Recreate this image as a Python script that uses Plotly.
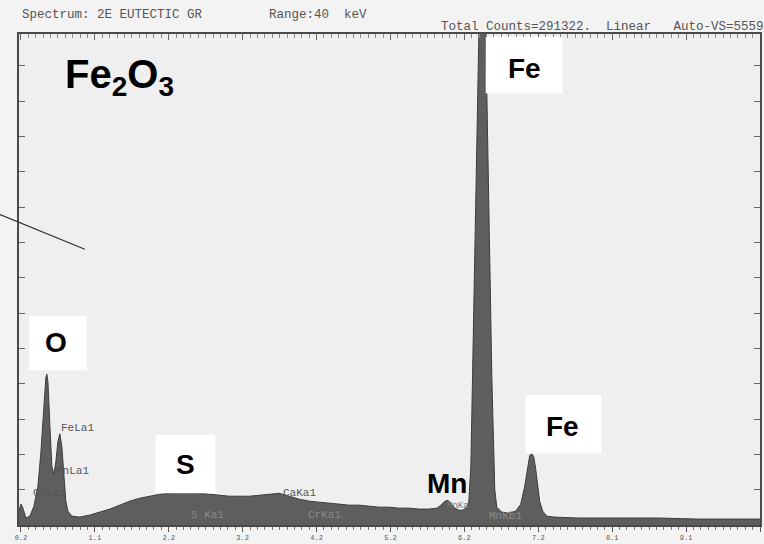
import plotly.graph_objects as go

# ---- spectrum (energy in keV, counts) ----
energy_kev = [0.174, 0.2, 0.226, 0.266, 0.319, 0.372, 0.425, 0.465, 0.504, 0.531,
              0.544, 0.558, 0.584, 0.61, 0.637, 0.663, 0.69, 0.716, 0.742, 0.769,
              0.795, 0.822, 0.875, 0.98, 1.113, 1.245, 1.377, 1.51, 1.642, 1.774,
              1.906, 2.039, 2.171, 2.303, 2.435, 2.568, 2.7, 2.832, 2.965, 3.097,
              3.229, 3.361, 3.494, 3.626, 3.758, 3.891, 4.023, 4.155, 4.287, 4.42,
              4.552, 4.684, 4.816, 4.949, 5.081, 5.213, 5.345, 5.478, 5.61, 5.716,
              5.769, 5.822, 5.862, 5.902, 5.954, 6.007, 6.06, 6.113, 6.139, 6.166,
              6.186, 6.272, 6.285, 6.318, 6.351, 6.364, 6.444, 6.483, 6.51, 6.576,
              6.668, 6.761, 6.827, 6.88, 6.92, 6.946, 6.972, 6.999, 7.025, 7.052,
              7.078, 7.118, 7.171, 7.264, 7.594, 8.123, 8.652, 9.181, 9.711, 10.0]
counts = [157, 236, 191, 79, 101, 213, 438, 831, 1336, 1673,
          1707, 1617, 1112, 663, 573, 719, 943, 1033, 887, 550,
          270, 157, 101, 90, 112, 146, 180, 225, 270, 303,
          326, 348, 359, 371, 371, 359, 348, 337, 326, 326,
          326, 337, 348, 359, 326, 292, 270, 258, 247, 236,
          225, 225, 213, 202, 202, 191, 191, 180, 180, 191,
          225, 270, 281, 247, 191, 168, 168, 202, 270, 663,
          1673, 5559, 9000, 13000, 9000, 5559, 1673, 400, 200, 146,
          135, 157, 236, 438, 685, 786, 808, 775, 640, 438,
          270, 157, 101, 90, 79, 79, 79, 67, 67, 67]

major_tick_kev = [0.2, 1.18, 2.16, 3.14, 4.12, 5.1, 6.08, 7.06, 8.04, 9.02, 10.0]
major_tick_text = ["0.2", "1.1", "2.2", "3.2", "4.2", "5.2", "6.2", "7.2", "8.1", "9.1", "10"]
x_range = [0.174, 10.0]
y_range = [0, 5559]

W, H = 764, 544
L, R, T, B = 19, 2, 34, 15


def px(x):
    return (x - L) / (W - L - R)


def py(y):
    return (H - B - y) / (H - T - B)


fig = go.Figure()
fig.add_trace(go.Scatter(
    x=energy_kev, y=counts, mode="lines", fill="tozeroy",
    line=dict(color="#3c3c3c", width=1), fillcolor="#5e5e5e",
    hoverinfo="skip", showlegend=False))
fig.add_trace(go.Scatter(
    x=[x_range[0]], y=[0], xaxis="x2", mode="markers",
    marker=dict(opacity=0), hoverinfo="skip", showlegend=False))

mono = "Liberation Mono, Courier New, monospace"
sans = "Liberation Sans, Arial, sans-serif"

fig.update_layout(
    width=W, height=H, autosize=False,
    margin=dict(l=L, r=R, t=T, b=B),
    paper_bgcolor="#f3f3f3", plot_bgcolor="#efefef",
    xaxis=dict(range=x_range, tickmode="array", tickvals=major_tick_kev,
               ticktext=major_tick_text, ticks="outside", ticklen=5,
               tickcolor="#555", tickfont=dict(family=mono, size=7, color="#555"),
               minor=dict(tickmode="linear", tick0=0.2, dtick=0.098, ticks="outside",
                          ticklen=3, tickcolor="#777"),
               showline=True, linecolor="#4a4a4a", linewidth=1.5, mirror=True,
               showgrid=False, zeroline=False),
    xaxis2=dict(range=x_range, overlaying="x", side="top", tickmode="array",
                tickvals=major_tick_kev, ticks="inside", ticklen=6, tickcolor="#666",
                showticklabels=False,
                minor=dict(tickmode="linear", tick0=0.2, dtick=0.098, ticks="inside",
                           ticklen=4, tickcolor="#888"),
                showline=False, showgrid=False, zeroline=False),
    yaxis=dict(range=y_range, tickmode="linear", tick0=0, dtick=400, ticks="inside",
               ticklen=6, tickcolor="#666", showticklabels=False, showline=True,
               linecolor="#4a4a4a", linewidth=1.5, mirror="ticks",
               showgrid=False, zeroline=False),
)


def note(text, x, y, font, xanchor="center"):
    fig.add_annotation(x=px(x), y=py(y), xref="paper", yref="paper", text=text,
                       xanchor=xanchor, yanchor="middle", showarrow=False, font=font)


# header texts
hdr = dict(family=mono, size=12.5, color="#555")
note("Spectrum: 2E EUTECTIC GR", 20, 15, hdr, "left")
note("Range:40  keV", 268, 15, hdr, "left")
note("Total Counts=291322.  Linear   Auto-VS=5559", 440, 27, hdr, "left")

# small peak labels
small = [("FeLa1", 78, 431, "#555", 11), ("MnLa1", 73, 475, "#555", 11),
         ("CrLa1", 50, 497, "#555", 11), ("CaKa1", 300, 497, "#555", 11),
         ("S Ka1", 208, 519, "#8a8a8a", 11), ("CrKa1", 325, 519, "#8a8a8a", 11),
         ("MnKb1", 507, 520, "#8a8a8a", 11), ("MnKa", 459, 510, "#777", 9)]
for t, x, y, c, s in small:
    note(t, x, y, dict(family=mono, size=s, color=c))

# white label boxes
boxes = [(487, 37, 564, 94), (29, 318, 87, 373), (156, 438, 216, 497), (527, 398, 603, 457)]
for x0, y0, x1, y1 in boxes:
    fig.add_shape(type="rect", xref="paper", yref="paper", x0=px(x0), x1=px(x1),
                  y0=py(y1), y1=py(y0), fillcolor="white", line=dict(width=0), layer="above")

big = [("Fe", 526, 69), ("O", 56, 345), ("S", 186, 468), ("Fe", 564, 430), ("Mn", 448, 487)]
for t, x, y in big:
    note("<b>%s</b>" % t, x, y, dict(family=sans, size=28, color="black"))

note("<b>Fe<sub>2</sub>O<sub>3</sub></b>", 63, 77, dict(family=sans, size=40, color="black"), "left")

# pointer line coming from the left
fig.add_shape(type="line", xref="paper", yref="paper", x0=px(0), y0=py(216),
              x1=px(85), y1=py(251), line=dict(color="#333", width=1.3))

fig.write_html("out.html")
